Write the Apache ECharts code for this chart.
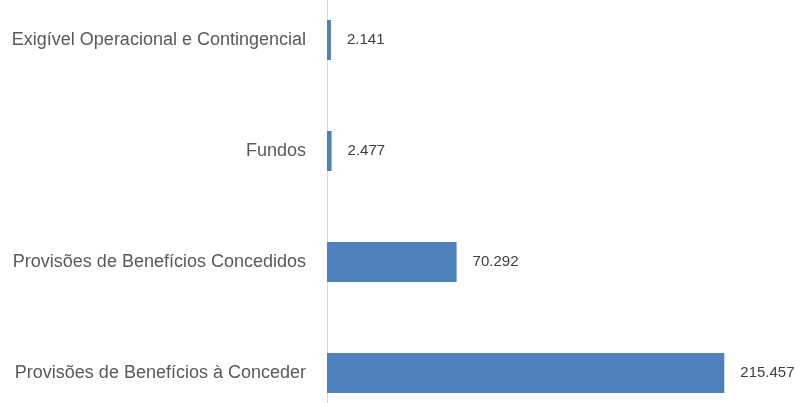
<!DOCTYPE html>
<html>
<head>
<meta charset="utf-8">
<script src="https://cdn.jsdelivr.net/npm/echarts@6/dist/echarts.min.js"></script>
<style>
  html, body { margin: 0; padding: 0; background: #fff; }
  #chart { width: 803px; height: 403px; }
</style>
</head>
<body>
<div id="chart"></div>
<script>
// categories top to bottom
var categories = [
  'Exigível Operacional e Contingencial',
  'Fundos',
  'Provisões de Benefícios Concedidos',
  'Provisões de Benefícios à Conceder'
]
var values = [2141, 2477, 70292, 215457]

function fmt(v) {
  return String(v).replace(/\B(?=(\d{3})+(?!\d))/g, '.')
}

var chart = echarts.init(document.getElementById('chart'))
chart.setOption({
  animation: false,
  grid: {
    left: 327,
    right: 15,
    top: -15.5,
    height: 444,
    outerBoundsMode: 'none',
    containLabel: false
  },
  xAxis: {
    type: 'value',
    min: 0,
    max: 250000,
    show: false
  },
  yAxis: {
    type: 'category',
    inverse: true,
    data: categories,
    axisLine: { show: true, lineStyle: { color: '#D9D9D9', width: 1 } },
    axisTick: { show: false },
    axisLabel: {
      margin: 21,
      fontFamily: 'Liberation Sans',
      fontSize: 18,
      color: '#595959'
    }
  },
  series: [
    {
      type: 'bar',
      data: values,
      barWidth: 40,
      itemStyle: { color: '#4F81BD' },
      label: {
        show: true,
        position: 'right',
        distance: 16,
        fontFamily: 'Liberation Sans',
        fontSize: 15,
        color: '#404040',
        formatter: function (p) { return fmt(p.value) }
      }
    }
  ]
})
</script>
</body>
</html>
